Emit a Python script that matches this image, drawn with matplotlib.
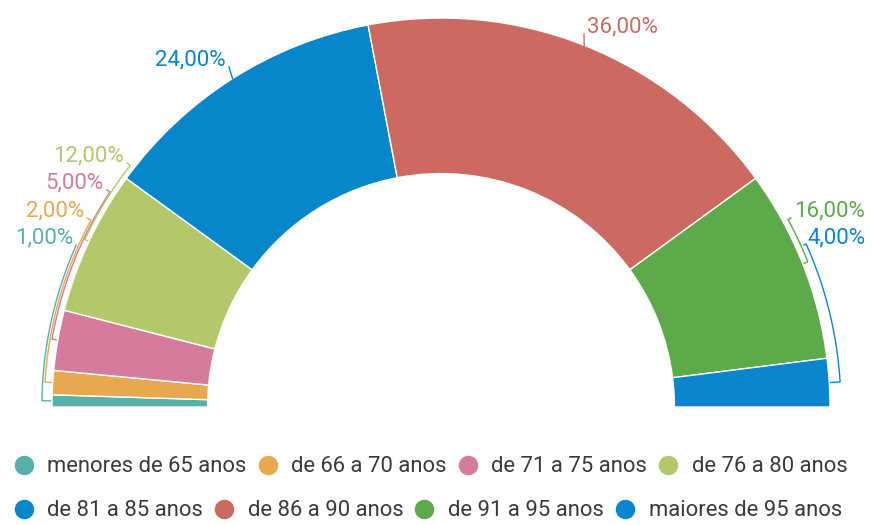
import numpy as np
import matplotlib
matplotlib.use("Agg")
import matplotlib.pyplot as plt
from matplotlib.lines import Line2D

plt.rcParams["font.family"] = ["Roboto", "DejaVu Sans"]

categories = ["menores de 65 anos", "de 66 a 70 anos", "de 71 a 75 anos", "de 76 a 80 anos",
              "de 81 a 85 anos", "de 86 a 90 anos", "de 91 a 95 anos", "maiores de 95 anos"]
values = [1, 2, 5, 12, 24, 36, 16, 4]
colors = ["#57B0AC", "#E8A84F", "#D57B9C", "#B3C86A", "#0787C9", "#CC6960", "#5CAA4A", "#0A87CC"]
pct_labels = [f"{v:.2f}%".replace(".", ",") for v in values]

W, H = 872, 525
cx, cy, R = 441, 407, 389

fig = plt.figure(figsize=(W / 100, H / 100), dpi=100)
ax = fig.add_axes([(cx - R) / W, 1 - (cy + R) / H, 2 * R / W, 2 * R / H])
total = sum(values)
wedges, _ = ax.pie(values + [total], colors=colors + ["none"], startangle=180,
                   counterclock=False, radius=1,
                   wedgeprops=dict(width=0.4, edgecolor="white", linewidth=1.0))
wedges[-1].set_edgecolor("none")
ax.set_xlim(-1, 1)
ax.set_ylim(-1, 1)
ax.axis("off")
for w in wedges:
    w.set_clip_on(False)


def px(x, y):
    return ((x - cx) / R, (cy - y) / R)


def pol(r, deg):
    t = np.radians(deg)
    return r * np.cos(t), r * np.sin(t)


# layout: label text anchor (pixels), alignment, leader style, leader radius
layout = [
    dict(t=(73, 238), ha="right", kind="arc", rb=1.026),
    dict(t=(84, 211), ha="right", kind="arc", rb=1.020),
    dict(t=(104, 183), ha="right", kind="arc", rb=1.015),
    dict(t=(124, 156), ha="right", kind="arc", rb=1.012),
    dict(t=(226, 60), ha="right", kind="line"),
    dict(t=(587, 27), ha="left", kind="line"),
    dict(t=(794, 211), ha="left", kind="arc", rb=1.014),
    dict(t=(807, 238), ha="left", kind="arc", rb=1.028),
]

cum = np.cumsum([0] + values)
for i, (v, lab, c, L) in enumerate(zip(values, pct_labels, colors, layout)):
    a0 = 180 - cum[i] / total * 180
    a1 = 180 - cum[i + 1] / total * 180
    am = (a0 + a1) / 2
    tx, ty = px(*L["t"])
    ax.text(tx, ty, lab, color=c, fontsize=16, ha=L["ha"], va="center")
    sgn = 1 if L["ha"] == "right" else -1
    ex, ey = px(L["t"][0] + sgn * 3, L["t"][1] + 7)
    if L["kind"] == "line":
        sx, sy = pol(1.0, am)
        ax.plot([sx, ex], [sy, ey], color=c, lw=1.0, clip_on=False)
    else:
        rb = L["rb"]
        al = np.degrees(np.arctan2(ey, ex))
        arc = np.linspace(al, am, 80)
        xs = [ex] + list(rb * np.cos(np.radians(arc)))
        ys = [ey] + list(rb * np.sin(np.radians(arc)))
        tx2, ty2 = pol(1.004, am)
        xs.append(tx2)
        ys.append(ty2)
        ax.plot(xs, ys, color=c, lw=1.0, clip_on=False)

handles = [Line2D([0], [0], marker="o", linestyle="", markersize=13,
                  markerfacecolor=c, markeredgecolor=c) for c in colors]
common = dict(frameon=False, fontsize=15.8, handlelength=0.8, handletextpad=0.68,
              columnspacing=0.55, borderpad=0, borderaxespad=0, ncol=4,
              loc="center left", labelcolor="#3a3a3a")
leg1 = fig.legend(handles[:4], categories[:4], bbox_to_anchor=(15 / W, 1 - 467 / H), **common)
leg2 = fig.legend(handles[4:], categories[4:], bbox_to_anchor=(15 / W, 1 - 511 / H), **common)

fig.savefig("out.png", dpi=100, facecolor="white")
